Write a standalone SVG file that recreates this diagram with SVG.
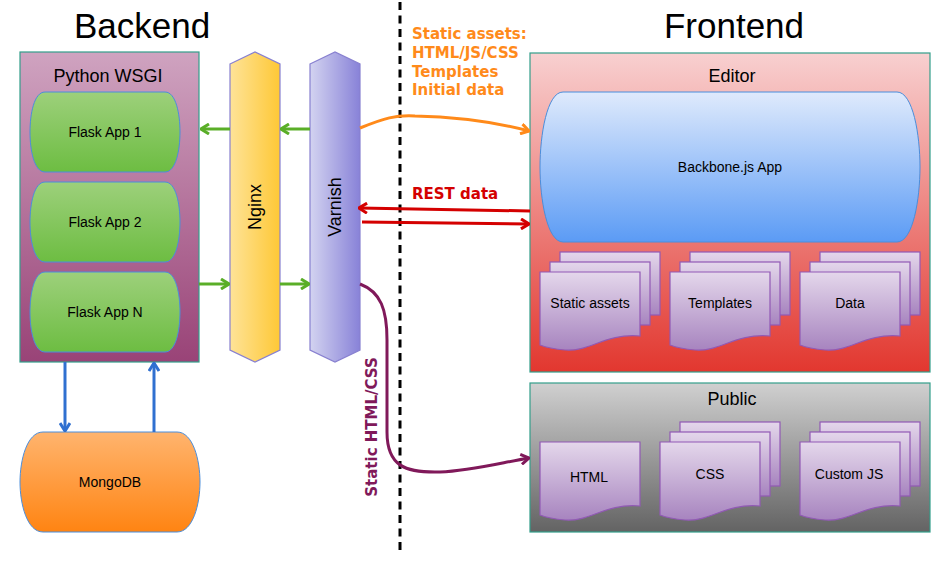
<svg xmlns="http://www.w3.org/2000/svg" width="950" height="562" viewBox="0 0 950 562">
<defs>
<linearGradient id="gWsgi" x1="0" y1="0" x2="0" y2="1"><stop offset="0" stop-color="#cfa3c0"/><stop offset="1" stop-color="#994377"/></linearGradient>
<linearGradient id="gFlask" x1="0" y1="0" x2="0" y2="1"><stop offset="0" stop-color="#9dd07b"/><stop offset="1" stop-color="#6dbd42"/></linearGradient>
<linearGradient id="gNginx" x1="0" y1="0" x2="1" y2="0"><stop offset="0" stop-color="#fee398"/><stop offset="1" stop-color="#fec836"/></linearGradient>
<linearGradient id="gVarnish" x1="0" y1="0" x2="1" y2="0"><stop offset="0" stop-color="#d3d3f0"/><stop offset="1" stop-color="#8882d8"/></linearGradient>
<linearGradient id="gMongo" x1="0" y1="0" x2="0" y2="1"><stop offset="0" stop-color="#ffb46e"/><stop offset="1" stop-color="#ff8412"/></linearGradient>
<linearGradient id="gEditor" x1="0" y1="0" x2="0" y2="1"><stop offset="0" stop-color="#f8d0d0"/><stop offset="1" stop-color="#e2372f"/></linearGradient>
<linearGradient id="gPublic" x1="0" y1="0" x2="0" y2="1"><stop offset="0" stop-color="#d0d0d0"/><stop offset="1" stop-color="#636363"/></linearGradient>
<linearGradient id="gBackbone" x1="0" y1="0" x2="0" y2="1"><stop offset="0" stop-color="#dfeafc"/><stop offset="1" stop-color="#5b9bf5"/></linearGradient>
<linearGradient id="gDoc" x1="0" y1="0" x2="0" y2="1"><stop offset="0" stop-color="#e4d7eb"/><stop offset="1" stop-color="#a784bf"/></linearGradient>
<marker id="aGreen" viewBox="0 0 10 12" refX="9" refY="6" markerWidth="10" markerHeight="12" markerUnits="userSpaceOnUse" orient="auto"><path d="M1,1 L9,6 L1,11" fill="none" stroke="#5aae28" stroke-width="3"/></marker>
<marker id="aBlue" viewBox="0 0 10 12" refX="9" refY="6" markerWidth="10" markerHeight="12" markerUnits="userSpaceOnUse" orient="auto"><path d="M1,1 L9,6 L1,11" fill="none" stroke="#3070d0" stroke-width="3"/></marker>
<marker id="aOrange" viewBox="0 0 10 12" refX="9" refY="6" markerWidth="10" markerHeight="12" markerUnits="userSpaceOnUse" orient="auto"><path d="M1,1 L9,6 L1,11" fill="none" stroke="#ff8a1a" stroke-width="3"/></marker>
<marker id="aRed" viewBox="0 0 10 12" refX="9" refY="6" markerWidth="10" markerHeight="12" markerUnits="userSpaceOnUse" orient="auto"><path d="M1,1 L9,6 L1,11" fill="none" stroke="#d40000" stroke-width="3"/></marker>
<marker id="aPurple" viewBox="0 0 10 12" refX="9" refY="6" markerWidth="10" markerHeight="12" markerUnits="userSpaceOnUse" orient="auto"><path d="M1,1 L9,6 L1,11" fill="none" stroke="#80195a" stroke-width="3"/></marker>
</defs>
<style>
text{font-family:"Liberation Sans",Arial,sans-serif;fill:#000}
.t14{font-size:14px;text-anchor:middle}
.t18{font-size:18px;text-anchor:middle}
.big{font-size:35px;text-anchor:middle}
.bold{font-family:"DejaVu Sans",Verdana,sans-serif;font-weight:bold;font-size:15px}
.frame{stroke:#339e8a;stroke-width:1.2}
.pill{stroke:#4a8edc;stroke-width:1}
.doc{fill:url(#gDoc);stroke:#9159b5;stroke-width:1.2}
.hex{stroke:#8880d0;stroke-width:1.2}
.c{fill:none;stroke-width:3}
</style>
<rect width="950" height="562" fill="#ffffff"/>

<g id="titles">
<text class="big" x="142" y="38">Backend</text>
<text class="big" x="734" y="38">Frontend</text>
</g>

<line id="divider" x1="400" y1="2" x2="400" y2="552" stroke="#000" stroke-width="3" stroke-dasharray="8,5.5"/>

<g id="python-wsgi">
<rect x="20" y="52" width="179" height="310" fill="url(#gWsgi)" class="frame"/>
<text class="t18" x="108" y="82">Python WSGI</text>
</g>
<g id="flask1">
<path class="pill" fill="url(#gFlask)" d="M45,92 H165 C176,92 180,114 180,132 C180,150 176,172 165,172 H45 C34,172 30,150 30,132 C30,114 34,92 45,92 Z"/>
<text class="t14" x="105" y="137">Flask App 1</text>
</g>
<g id="flask2">
<path class="pill" fill="url(#gFlask)" d="M45,182 H165 C176,182 180,204 180,222 C180,240 176,262 165,262 H45 C34,262 30,240 30,222 C30,204 34,182 45,182 Z"/>
<text class="t14" x="105" y="227">Flask App 2</text>
</g>
<g id="flaskN">
<path class="pill" fill="url(#gFlask)" d="M45,272 H165 C176,272 180,294 180,312 C180,330 176,352 165,352 H45 C34,352 30,330 30,312 C30,294 34,272 45,272 Z"/>
<text class="t14" x="105" y="317">Flask App N</text>
</g>

<g id="nginx">
<polygon class="hex" fill="url(#gNginx)" points="230,64 255,52 280,64 280,350 255,362 230,350"/>
<text class="t18" transform="translate(261,207) rotate(-90)">Nginx</text>
</g>
<g id="varnish">
<polygon class="hex" fill="url(#gVarnish)" points="310,64 335,52 360,64 360,350 335,362 310,350"/>
<text class="t18" transform="translate(341,207) rotate(-90)">Varnish</text>
</g>

<g id="mongodb">
<path class="pill" fill="url(#gMongo)" d="M43,432 H177 C193,432 200,460 200,482 C200,504 193,532 177,532 H43 C27,532 20,504 20,482 C20,460 27,432 43,432 Z"/>
<text class="t14" x="110" y="487">MongoDB</text>
</g>

<g id="editor">
<rect x="530" y="53" width="400" height="319" fill="url(#gEditor)" class="frame"/>
<text class="t18" x="732" y="82">Editor</text>
</g>
<g id="backbone">
<path class="pill" fill="url(#gBackbone)" d="M563,92 H897 C913,92 920,135 920,167 C920,199 913,242 897,242 H563 C547,242 540,199 540,167 C540,135 547,92 563,92 Z"/>
<text class="t14" x="730" y="172">Backbone.js App</text>
</g>
<g id="static-assets">
<rect class="doc" x="560" y="252" width="100" height="63"/>
<rect class="doc" x="550" y="262" width="100" height="63"/>
<path class="doc" d="M540,272 H640 V336 C605,333 590,352 565,350 C553,349 545,347 540,345 Z"/>
<text class="t14" x="590" y="308">Static assets</text>
</g>
<g id="templates">
<rect class="doc" x="690" y="252" width="100" height="63"/>
<rect class="doc" x="680" y="262" width="100" height="63"/>
<path class="doc" d="M670,272 H770 V336 C735,333 720,352 695,350 C683,349 675,347 670,345 Z"/>
<text class="t14" x="720" y="308">Templates</text>
</g>
<g id="data">
<rect class="doc" x="820" y="252" width="100" height="63"/>
<rect class="doc" x="810" y="262" width="100" height="63"/>
<path class="doc" d="M800,272 H900 V336 C865,333 850,352 825,350 C813,349 805,347 800,345 Z"/>
<text class="t14" x="850" y="308">Data</text>
</g>

<g id="public">
<rect x="530" y="383" width="400" height="149" fill="url(#gPublic)" class="frame"/>
<text class="t18" x="732" y="405">Public</text>
</g>
<g id="html">
<path class="doc" d="M540,442 H640 V506 C605,503 590,522 565,520 C553,519 545,517 540,515 Z"/>
<text class="t14" x="589" y="482">HTML</text>
</g>
<g id="css">
<rect class="doc" x="680" y="422" width="100" height="64"/>
<rect class="doc" x="670" y="432" width="100" height="64"/>
<path class="doc" d="M660,442 H760 V506 C725,503 710,522 685,520 C673,519 665,517 660,515 Z"/>
<text class="t14" x="710" y="479">CSS</text>
</g>
<g id="custom-js">
<rect class="doc" x="820" y="422" width="100" height="64"/>
<rect class="doc" x="810" y="432" width="100" height="64"/>
<path class="doc" d="M800,442 H900 V506 C865,503 850,522 825,520 C813,519 805,517 800,515 Z"/>
<text class="t14" x="849" y="479">Custom JS</text>
</g>

<g id="connectors">
<line class="c" stroke="#5aae28" x1="230" y1="129" x2="201" y2="129" marker-end="url(#aGreen)"/>
<line class="c" stroke="#5aae28" x1="310" y1="129" x2="281" y2="129" marker-end="url(#aGreen)"/>
<line class="c" stroke="#5aae28" x1="199" y1="284" x2="229" y2="284" marker-end="url(#aGreen)"/>
<line class="c" stroke="#5aae28" x1="280" y1="284" x2="309" y2="284" marker-end="url(#aGreen)"/>
<line class="c" stroke="#3070d0" x1="65" y1="362" x2="65" y2="431" marker-end="url(#aBlue)"/>
<line class="c" stroke="#3070d0" x1="154" y1="432" x2="154" y2="363" marker-end="url(#aBlue)"/>
<path class="c" stroke="#ff8a1a" d="M360,128 C385,118 395,115 415,116 C460,117 495,122 529,131" marker-end="url(#aOrange)"/>
<path class="c" stroke="#d40000" d="M530,211 L359,208" marker-end="url(#aRed)"/>
<path class="c" stroke="#d40000" d="M362,222 L529,224" marker-end="url(#aRed)"/>
<path class="c" stroke="#80195a" d="M360,284 C381,292 387,310 387,340 L387,432 C387,466 405,473 440,472 C470,471 500,463 529,458" marker-end="url(#aPurple)"/>
<text class="bold" fill="#ff8a1a" style="fill:#ff8a1a" x="412" y="39">Static assets:</text>
<text class="bold" style="fill:#ff8a1a" x="412" y="58">HTML/JS/CSS</text>
<text class="bold" style="fill:#ff8a1a" x="412" y="77">Templates</text>
<text class="bold" style="fill:#ff8a1a" x="412" y="95">Initial data</text>
<text class="bold" style="fill:#d40000" x="412" y="199">REST data</text>
<text class="bold" style="fill:#80195a;text-anchor:middle" transform="translate(377,427) rotate(-90)">Static HTML/CSS</text>
</g>
</svg>
